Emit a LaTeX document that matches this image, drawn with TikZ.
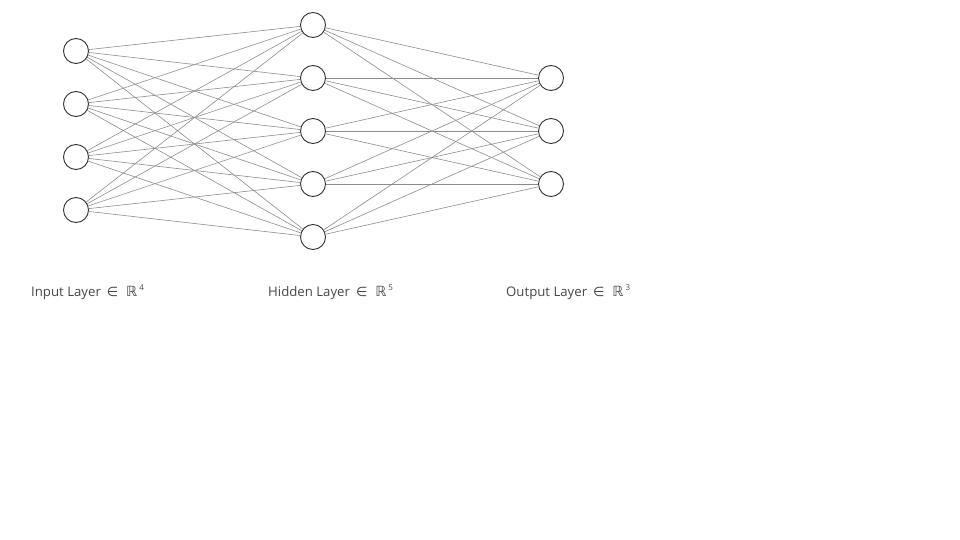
\documentclass[tikz,border=0pt]{standalone}
\usepackage{fontspec}
\setmainfont{Open Sans}
\newfontfamily\symfont{DejaVu Sans}
\newcommand{\memb}[1]{\hspace{6pt}{\symfont\fontsize{13}{14}\selectfont ∈}\hspace{8pt}{\symfont\fontsize{14}{14}\selectfont ℝ}\hspace{2pt}\raisebox{6pt}{\fontsize{8}{8}\selectfont #1}}
\begin{document}
\begin{tikzpicture}[x=1pt,y=-1pt,
  neuron/.style={circle,draw=black!80,line width=0.9pt,minimum size=25pt,inner sep=0pt,fill=white},
  edge/.style={draw=black!45,line width=0.6pt},
  lbl/.style={anchor=base west,inner sep=0pt,font=\fontsize{13.2}{16}\selectfont,text=black!72}]
\useasboundingbox (0,0) rectangle (960,540);
\foreach \i/\y in {1/51,2/104,3/157,4/210} \node[neuron] (I\i) at (76,\y) {};
\foreach \i/\y in {1/25,2/78,3/131,4/184,5/237} \node[neuron] (H\i) at (313,\y) {};
\foreach \i/\y in {1/78,2/131,3/184} \node[neuron] (O\i) at (551,\y) {};
\foreach \a in {1,...,4} \foreach \b in {1,...,5} \draw[edge] (I\a) -- (H\b);
\foreach \a in {1,...,5} \foreach \b in {1,...,3} \draw[edge] (H\a) -- (O\b);
\node[lbl] (L1) at (31,296) {Input Layer\memb{4}};
\node[lbl] (L2) at (268,296) {Hidden Layer\memb{5}};
\node[lbl] (L3) at (506,296) {Output Layer\memb{3}};
\end{tikzpicture}
\end{document}
